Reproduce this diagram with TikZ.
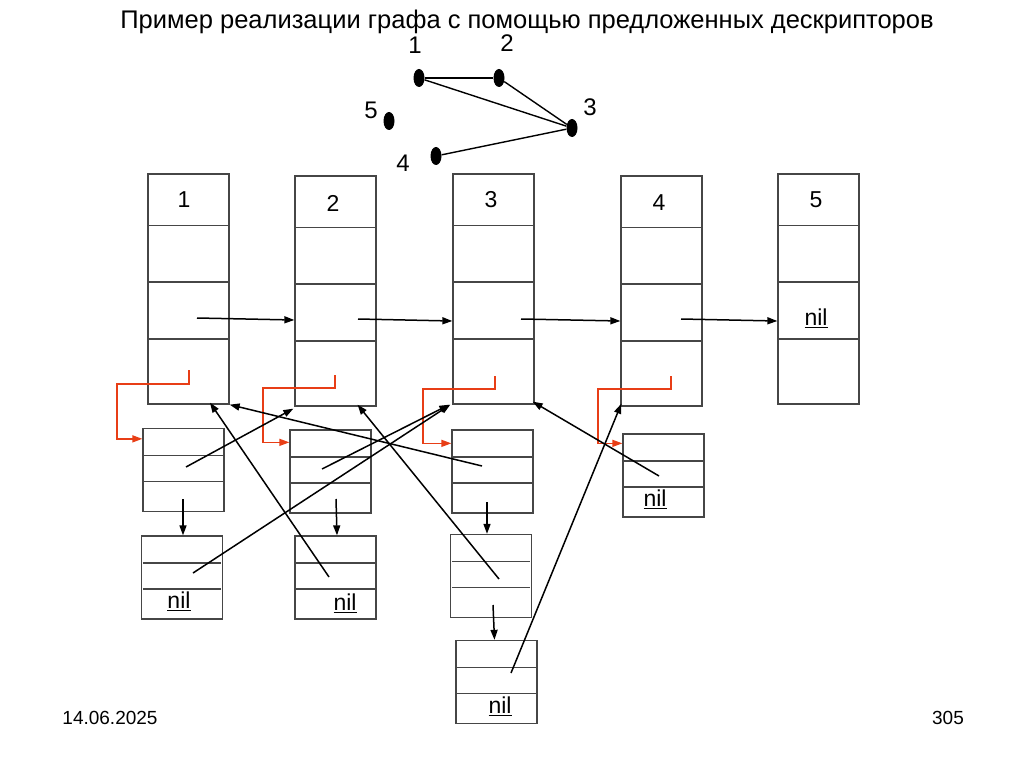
\documentclass[tikz,border=0pt]{standalone}
\usepackage{fontspec}
\setmainfont{Liberation Sans}
\usetikzlibrary{arrows.meta,shapes.geometric}
\definecolor{boxgray}{RGB}{70,70,70}
\definecolor{ptrred}{RGB}{232,62,22}
\begin{document}
\begin{tikzpicture}[x=1pt,y=-1pt,
  vbox/.style={draw=boxgray, line width=1.3pt, inner sep=0pt, minimum width=81pt, minimum height=230pt},
  lbox/.style={draw=boxgray, line width=1.3pt, inner sep=0pt, minimum width=81pt, minimum height=83pt},
  cellline/.style={draw=boxgray, line width=1.3pt},
  ptr/.style={-{Triangle[length=10pt,width=7pt]}, line width=1.5pt, draw=black},
  rptr/.style={-{Triangle[length=10pt,width=7pt,fill=ptrred]}, line width=1.5pt, draw=ptrred},
  vert/.style={ellipse, fill=black, inner sep=0pt, minimum width=11pt, minimum height=18pt},
  num/.style={font=\fontsize{23}{26}\selectfont, inner sep=0pt},
  gnum/.style={font=\fontsize{24}{27}\selectfont, inner sep=0pt},
  nil/.style={font=\fontsize{23}{26}\selectfont, inner sep=0pt},
  edge/.style={line width=1.4pt, draw=black}]
\useasboundingbox (0,0) rectangle (1024,767);

% title and footer
\node[font=\fontsize{25.5}{28}\selectfont, inner sep=0pt] (title) at (527,22) {Пример реализации графа с помощью предложенных дескрипторов};
\node[font=\fontsize{19}{22}\selectfont, inner sep=0pt] (date) at (110,718) {14.06.2025};
\node[font=\fontsize{19}{22}\selectfont, inner sep=0pt] (page) at (948,718) {305};

% small graph
\node[vert] (g1) at (419,78) {};
\node[vert] (g2) at (499,78) {};
\node[vert] (g3) at (572,128) {};
\node[vert] (g4) at (436,156) {};
\node[vert] (g5) at (389,121) {};
\node[gnum] (gl1) at (415,45) {1};
\node[gnum] (gl2) at (507,43) {2};
\node[gnum] (gl3) at (590,107) {3};
\node[gnum] (gl4) at (403,163) {4};
\node[gnum] (gl5) at (371,110) {5};
\draw[edge] (g1) -- (g2);
\draw[edge] (g1) -- (g3);
\draw[edge] (g2) -- (g3);
\draw[edge] (g4) -- (g3);

% vertex descriptor boxes
\node[vbox] (V1) at (188.5,289) {};
\node[vbox] (V2) at (335.5,291) {};
\node[vbox] (V3) at (493.5,289) {};
\node[vbox] (V4) at (661.5,291) {};
\node[vbox] (V5) at (818.5,289) {};
\foreach \b in {V1,V2,V3,V4,V5}{
  \foreach \o in {52.5,108.5,165.5}{
    \draw[cellline] ([xshift=2pt,yshift=-\o pt]\b.north west) -- ([yshift=-\o pt]\b.north east);
  }
}
\node[num] (t1) at (184,200) {1};
\node[num] (t2) at (333,203) {2};
\node[num] (t3) at (491,200) {3};
\node[num] (t4) at (659,203) {4};
\node[num] (t5) at (816,200) {5};
\node[nil] (n5) at (816,318) {\underline{nil}};

% list boxes
\node[lbox] (L1a) at (183.5,470) {};
\node[lbox] (L1b) at (182,577.5) {};
\node[lbox] (L2a) at (330.5,471.5) {};
\node[lbox] (L2b) at (335.5,577.5) {};
\node[lbox] (L3a) at (492.5,471.5) {};
\node[lbox] (L3b) at (491,576) {};
\node[lbox] (L3c) at (496.5,682) {};
\node[lbox] (L4a) at (663.5,475.5) {};
\foreach \b in {L1a,L1b,L2a,L2b,L3a,L3b,L3c,L4a}{
  \foreach \o in {27.5,53.5}{
    \draw[cellline] ([xshift=2pt,yshift=-\o pt]\b.north west) -- ([xshift=-2pt,yshift=-\o pt]\b.north east);
  }
}
\node[nil] (n1b) at (179,601) {\underline{nil}};
\node[nil] (n2b) at (345,603) {\underline{nil}};
\node[nil] (n3c) at (500,706) {\underline{nil}};
\node[nil] (n4a) at (655,499) {\underline{nil}};

% horizontal pointers between vertex boxes
\coordinate (h1) at (197,318);
\coordinate (h2) at (358,319);
\coordinate (h3) at (521,319);
\coordinate (h4) at (681,319);
\draw[ptr] (h1) -- ([yshift=-29pt]V2.west);
\draw[ptr] (h2) -- ([yshift=-32pt]V3.west);
\draw[ptr] (h3) -- ([yshift=-30pt]V4.west);
\draw[ptr] (h4) -- ([yshift=-32pt]V5.west);

% red pointers to adjacency lists
\coordinate (r1) at (189,370);
\coordinate (r2) at (335,375);
\coordinate (r3) at (495,376);
\coordinate (r4) at (671,376);
\coordinate (k1) at (117,384);
\coordinate (k2) at (263,388);
\coordinate (k3) at (423,389);
\coordinate (k4) at (598,389);
\draw[rptr] (r1) |- (k1) |- ([yshift=-11pt]L1a.north west);
\draw[rptr] (r2) |- (k2) |- ([yshift=-13pt]L2a.north west);
\draw[rptr] (r3) |- (k3) |- ([yshift=-14pt]L3a.north west);
\draw[rptr] (r4) |- (k4) |- ([yshift=-10pt]L4a.north west);

% next pointers inside lists
\coordinate (d1) at (183,499);
\coordinate (d2) at (336,499);
\coordinate (d3) at (487,502);
\coordinate (d4) at (493,605);
\draw[ptr] (d1) -- ([xshift=1pt]L1b.north);
\draw[ptr] (d2) -- ([xshift=1.5pt]L2b.north);
\draw[ptr] (d3) -- ([xshift=-4pt]L3b.north);
\draw[ptr] (d4) -- ([xshift=-2pt]L3c.north);

% pointers from list elements to vertex descriptors
\coordinate (c1) at (186,467);
\coordinate (c2) at (193,573);
\coordinate (c3) at (322,469);
\coordinate (c4) at (329,577);
\coordinate (c5) at (482,466);
\coordinate (c6) at (499,579);
\coordinate (c7) at (511,673);
\coordinate (c8) at (659,476);
\draw[ptr] (c1) -- ([xshift=-1pt,yshift=-2pt]V2.south west);
\draw[ptr] (c2) -- ([xshift=-2pt]V3.south west);
\draw[ptr] (c3) -- ([xshift=-3pt]V3.south west);
\draw[ptr] (c4) -- ([xshift=21.5pt,yshift=2pt]V1.south);
\draw[ptr] (c5) -- (V1.south east);
\draw[ptr] (c6) -- ([xshift=22pt,yshift=2pt]V2.south);
\draw[ptr] (c7) -- ([xshift=1pt,yshift=3pt]V4.south west);
\draw[ptr] (c8) -- ([xshift=-2pt,yshift=3pt]V3.south east);
\end{tikzpicture}
\end{document}
